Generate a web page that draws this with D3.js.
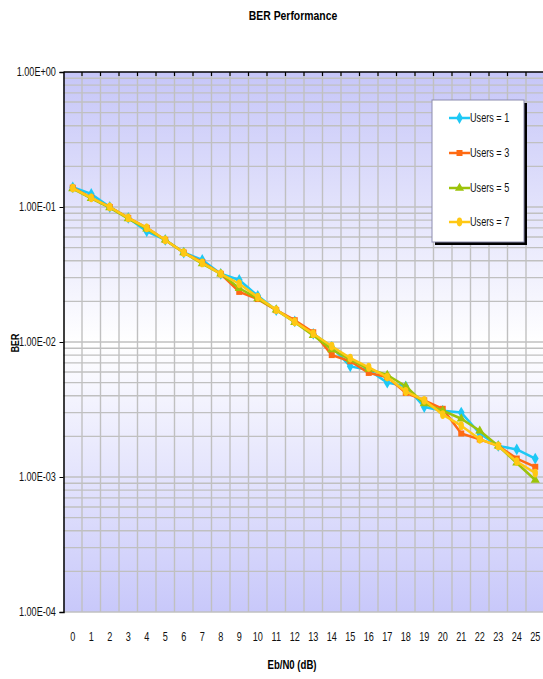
<!DOCTYPE html>
<meta charset="utf-8">
<style>
  body { margin: 0; background: #fff; }
  text { font-family: "Liberation Sans", Arial, sans-serif; }
</style>
<body>
<div id="chart"></div>
<script src="https://d3js.org/d3.v7.min.js"></script>
<script>
// chart data
var categories = ["0","1","2","3","4","5","6","7","8","9","10","11","12","13","14","15","16","17","18","19","20","21","22","23","24","25"];
var seriesNames = ["Users = 1", "Users = 3", "Users = 5", "Users = 7"];
var users1 = [0.140,0.125,0.100,0.083,0.066,0.057,0.046,0.0405,0.032,0.0288,0.022,0.0172,0.0142,0.0115,0.0092,0.0066,0.0062,0.0050,0.0047,0.0033,0.0031,0.0030,0.0021,0.0017,0.0016,0.00137];
var users3 = [0.139,0.117,0.100,0.083,0.070,0.057,0.046,0.039,0.032,0.0235,0.0208,0.0172,0.0145,0.0118,0.0080,0.0072,0.0059,0.0055,0.0042,0.0037,0.0032,0.0021,0.0019,0.0017,0.00137,0.00119];
var users5 = [0.137,0.116,0.099,0.082,0.069,0.057,0.046,0.038,0.032,0.025,0.021,0.0173,0.0140,0.0112,0.0088,0.0074,0.0063,0.0057,0.0047,0.0035,0.0031,0.0027,0.0022,0.0017,0.00127,0.00095];
var users7 = [0.138,0.117,0.100,0.083,0.070,0.057,0.046,0.0385,0.032,0.027,0.0215,0.0173,0.0141,0.0115,0.0093,0.0076,0.0065,0.0055,0.0043,0.0037,0.0029,0.0024,0.0019,0.0017,0.0013,0.00107];
var yTicks = [1e-4, 1e-3, 1e-2, 1e-1, 1];

var colors = ["#1ec8f5", "#ff6a13", "#9cc30a", "#ffc814"];
var symbols = [d3.symbolDiamond, d3.symbolSquare, d3.symbolTriangle, d3.symbolCircle];
var series = [users1, users3, users5, users7];

// dimensions
var W = 543, H = 679;
var margin = { top: 72, left: 63.5 },
    width = 481, height = 540;
var sx = 0.76; // narrow text look

var svg = d3.select("#chart").append("svg")
  .attr("width", W).attr("height", H);

var defs = svg.append("defs");
var grad = defs.append("linearGradient").attr("id", "bg")
  .attr("x1", 0).attr("y1", 0).attr("x2", 0).attr("y2", 1);
grad.append("stop").attr("offset", "0%").attr("stop-color", "#c6c6f8");
grad.append("stop").attr("offset", "50%").attr("stop-color", "#ffffff");
grad.append("stop").attr("offset", "100%").attr("stop-color", "#c8c8fa");

var x = d3.scaleBand().domain(categories).range([margin.left, margin.left + width]);
var y = d3.scaleLog().domain([1e-4, 1]).range([margin.top + height, margin.top]);

// plot background
svg.append("rect")
  .attr("x", margin.left).attr("y", margin.top)
  .attr("width", width).attr("height", height)
  .attr("fill", "url(#bg)");

// horizontal grid (log minor)
var gridVals = [];
for (var e = -4; e < 0; e++) {
  for (var k = 1; k <= 9; k++) gridVals.push(k * Math.pow(10, e));
}
svg.append("g").selectAll("line").data(gridVals).enter().append("line")
  .attr("x1", margin.left).attr("x2", margin.left + width)
  .attr("y1", function (d) { return y(d); })
  .attr("y2", function (d) { return y(d); })
  .attr("stroke", "#c0c0c0").attr("stroke-width", 1.4);

// vertical grid on category boundaries
var bounds = d3.range(1, categories.length + 1).map(function (i) { return margin.left + i * x.step(); });
svg.append("g").selectAll("line").data(bounds).enter().append("line")
  .attr("x1", function (d) { return d; }).attr("x2", function (d) { return d; })
  .attr("y1", margin.top).attr("y2", margin.top + height)
  .attr("stroke", "#c0c0c0").attr("stroke-width", 1.4);

// top axis line with tick marks pointing down
svg.append("line")
  .attr("x1", margin.left).attr("x2", margin.left + width)
  .attr("y1", margin.top).attr("y2", margin.top)
  .attr("stroke", "#000").attr("stroke-width", 1.5);
svg.append("g").selectAll("line").data(bounds).enter().append("line")
  .attr("x1", function (d) { return d; }).attr("x2", function (d) { return d; })
  .attr("y1", margin.top).attr("y2", margin.top + 4)
  .attr("stroke", "#000").attr("stroke-width", 1.2);

// left axis
var fmt = function (d) {
  var ex = Math.round(Math.log10(d));
  return "1.00E" + (ex >= 0 ? "+" : "-") + d3.format("02d")(Math.abs(ex));
};
var yAxis = svg.append("g")
  .attr("transform", "translate(" + margin.left + ",0)")
  .call(d3.axisLeft(y).tickValues(yTicks).tickFormat(fmt).tickSize(4).tickPadding(6));
yAxis.select(".domain").attr("stroke-width", 1.5);
yAxis.selectAll("text")
  .attr("font-size", "12px").attr("fill", "#111")
  .attr("font-family", "Liberation Sans, Arial, sans-serif")
  .attr("transform", "scale(" + sx + ",1)");

// x labels
svg.append("g").selectAll("text").data(categories).enter().append("text")
  .attr("transform", function (d) {
    return "translate(" + (x(d) + x.bandwidth() / 2) + ",641) scale(" + sx + ",1)";
  })
  .attr("text-anchor", "middle")
  .attr("font-size", "12px").attr("fill", "#111")
  .text(function (d) { return d; });

// series
var line = d3.line()
  .x(function (d, i) { return x(categories[i]) + x.bandwidth() / 2; })
  .y(function (d) { return y(d); });

series.forEach(function (s, si) {
  svg.append("path").datum(s)
    .attr("d", line)
    .attr("fill", "none")
    .attr("stroke", colors[si])
    .attr("stroke-width", 2.5)
    .attr("stroke-linejoin", "round");
  svg.append("g").selectAll("path").data(s).enter().append("path")
    .attr("transform", function (d, i) {
      return "translate(" + (x(categories[i]) + x.bandwidth() / 2) + "," + y(d) + ")" +
        (si === 3 ? " scale(0.8,1.3)" : "");
    })
    .attr("d", d3.symbol().type(symbols[si]).size(si === 0 ? 40 : 36))
    .attr("fill", colors[si]);
});

// title
svg.append("text")
  .attr("transform", "translate(293,20) scale(0.8,1)")
  .attr("text-anchor", "middle")
  .attr("font-size", "13px").attr("font-weight", "bold")
  .text("BER Performance");

// axis titles
svg.append("text")
  .attr("transform", "translate(292,669) scale(0.8,1)")
  .attr("text-anchor", "middle")
  .attr("font-size", "12px").attr("font-weight", "bold")
  .text("Eb/N0 (dB)");
svg.append("text")
  .attr("transform", "translate(19,343) rotate(-90) scale(0.8,1)")
  .attr("text-anchor", "middle")
  .attr("font-size", "11px").attr("font-weight", "bold")
  .text("BER");

// legend
var lg = { x: 432, y: 100, w: 92, h: 142 };
svg.append("rect")
  .attr("x", lg.x + 3).attr("y", lg.y + 3)
  .attr("width", lg.w).attr("height", lg.h)
  .attr("fill", "#000");
svg.append("rect")
  .attr("x", lg.x).attr("y", lg.y)
  .attr("width", lg.w).attr("height", lg.h)
  .attr("fill", "#fff").attr("stroke", "#8c8cb0").attr("stroke-width", 1);
var legendY = [118, 153, 188, 222];
seriesNames.forEach(function (name, si) {
  var ly = legendY[si];
  svg.append("line")
    .attr("x1", 449).attr("x2", 470).attr("y1", ly).attr("y2", ly)
    .attr("stroke", colors[si]).attr("stroke-width", 2.5);
  svg.append("path")
    .attr("transform", "translate(459.5," + ly + ")" + (si === 3 ? " scale(0.8,1.3)" : ""))
    .attr("d", d3.symbol().type(symbols[si]).size(si === 0 ? 40 : 36))
    .attr("fill", colors[si]);
  svg.append("text")
    .attr("transform", "translate(470," + (ly + 4) + ") scale(" + sx + ",1)")
    .attr("font-size", "12px").attr("fill", "#111")
    .text(name);
});
</script>
</body>
